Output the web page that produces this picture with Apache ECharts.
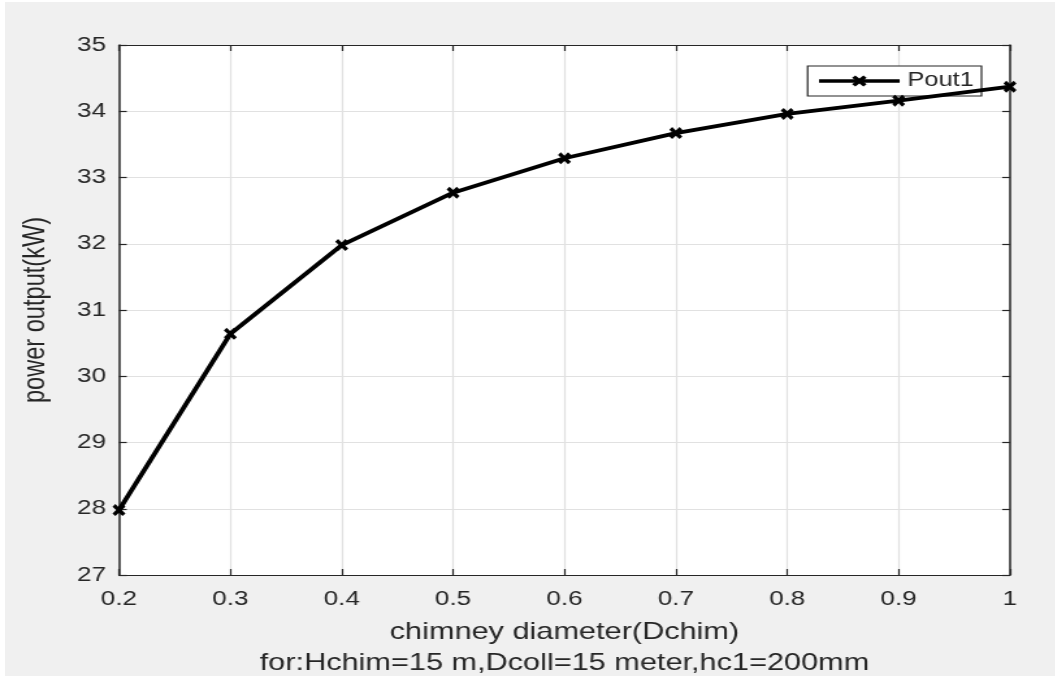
<!DOCTYPE html>
<html>
<head>
<meta charset="utf-8">
<script src="https://cdn.jsdelivr.net/npm/echarts@6/dist/echarts.min.js"></script>
<style>
  html, body { margin: 0; padding: 0; background: #ffffff; overflow: hidden; }
  #frame { position: absolute; left: 5px; top: 2px; width: 1050px; height: 674px; background: #f0f0f0; }
  /* the figure is laid out narrower, then widened to the window */
  #chart { position: absolute; left: 0; top: 0; width: 812px; height: 676px;
           transform: scaleX(1.3); transform-origin: 0 0; }
</style>
</head>
<body>
<div id="frame"></div>
<div id="chart"></div>
<script>
// chimney diameter (m) and simulated power output (kW)
const diameters = [0.2, 0.3, 0.4, 0.5, 0.6, 0.7, 0.8, 0.9, 1.0];
const powerOut = [27.98, 30.64, 31.98, 32.77, 33.29, 33.67, 33.96, 34.16, 34.37];
const seriesName = 'Pout1';
const xTitle = 'chimney diameter(Dchim)';
const xSubTitle = 'for:Hchim=15 m,Dcoll=15 meter,hc1=200mm';
const yTitle = 'power output(kW)';
const xRange = [0.2, 1.0, 0.1];
const yRange = [27, 35, 1];

const ink = '#262626';
const gridGray = '#e1e1e1';
const font = '"Liberation Sans", Arial, sans-serif';
// MATLAB-style "x" marker as a filled outline
const crossMark = 'path://M0,2.2L2.2,0L5,2.8L7.8,0L10,2.2L7.2,5L10,7.8L7.8,10L5,7.2L2.2,10L0,7.8L2.8,5Z';

const chart = echarts.init(document.getElementById('chart'), null, { renderer: 'canvas' });

const boxAxisX = (pos, showLabels) => ({
  type: 'value', position: pos,
  min: xRange[0], max: xRange[1], interval: xRange[2],
  axisLine: { show: true, onZero: false, lineStyle: { color: ink, width: 1.2 } },
  axisTick: { show: true, inside: true, length: 6, lineStyle: { color: ink, width: 1.2 } },
  axisLabel: showLabels ? {
    show: true, color: ink, fontFamily: font, fontSize: 20, margin: 14,
    formatter: v => String(Math.round(v * 10) / 10)
  } : { show: false },
  splitLine: { show: showLabels, lineStyle: { color: gridGray, width: 1.2 } }
});

const boxAxisY = (pos, showLabels) => ({
  type: 'value', position: pos,
  min: yRange[0], max: yRange[1], interval: yRange[2],
  axisLine: { show: true, onZero: false, lineStyle: { color: ink, width: 1.5 } },
  axisTick: { show: true, inside: true, length: 6, lineStyle: { color: ink, width: 1.2 } },
  axisLabel: showLabels ? {
    show: true, color: ink, fontFamily: font, fontSize: 20, margin: 10
  } : { show: false },
  splitLine: { show: showLabels, lineStyle: { color: gridGray, width: 1.2 } }
});

const xMain = boxAxisX('bottom', true);
xMain.name = xTitle + '\n' + xSubTitle;
xMain.nameLocation = 'middle';
xMain.nameGap = 42;
xMain.nameTextStyle = { color: ink, fontFamily: font, fontSize: 23.6, lineHeight: 31 };

const yMain = boxAxisY('left', true);
yMain.name = yTitle;
yMain.nameLocation = 'middle';
yMain.nameGap = 52;
yMain.nameRotate = 90;
yMain.nameTextStyle = { color: ink, fontFamily: font, fontSize: 23.6 };

chart.setOption({
  backgroundColor: 'transparent',
  animation: false,
  grid: { left: 91.5, right: 35.1, top: 45, bottom: 101, containLabel: false,
          outerBoundsMode: 'none',
          show: true, backgroundColor: '#ffffff', borderWidth: 0 },
  xAxis: [xMain, boxAxisX('top', false)],
  yAxis: [yMain, boxAxisY('right', false)],
  legend: {
    data: [seriesName],
    right: 57, top: 66,
    orient: 'vertical',
    backgroundColor: '#ffffff',
    borderColor: ink, borderWidth: 1.2, borderRadius: 0,
    padding: [5, 6, 5, 7],
    itemWidth: 62, itemHeight: 14, itemGap: 0,
    lineStyle: { width: 3.6, color: '#000000' },
    itemStyle: { color: '#000000' },
    textStyle: { color: ink, fontFamily: font, fontSize: 19.5, padding: [0, 0, 0, 1] }
  },
  series: [{
    name: seriesName,
    type: 'line',
    xAxisIndex: 0, yAxisIndex: 0,
    data: diameters.map((d, i) => [d, powerOut[i]]),
    symbol: crossMark,
    symbolSize: [10, 12],
    showAllSymbol: true,
    lineStyle: { color: '#000000', width: 3.8 },
    itemStyle: { color: '#000000' },
    clip: false,
    z: 5
  }]
});
</script>
</body>
</html>
